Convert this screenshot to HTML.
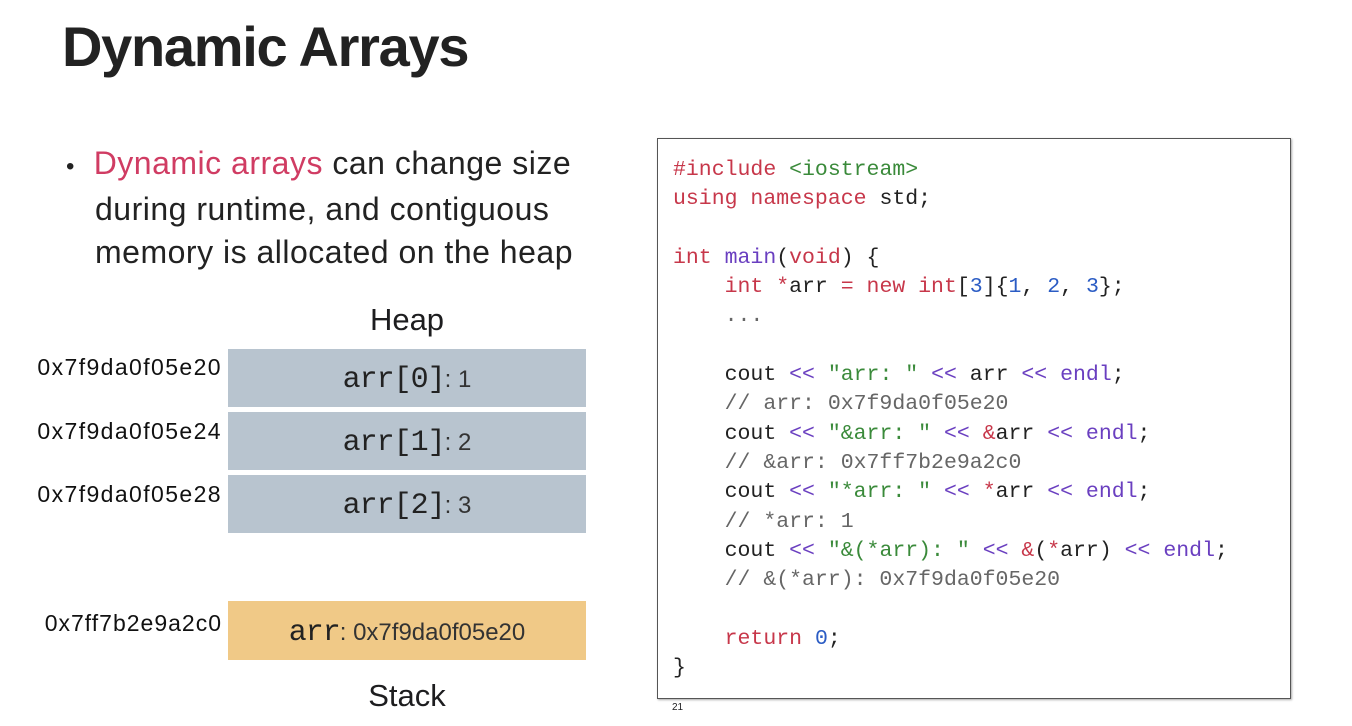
<!DOCTYPE html>
<html><head><meta charset="utf-8"><style>
body{margin:0;width:1352px;height:726px;background:#fff;position:relative;overflow:hidden;font-family:"Liberation Sans",sans-serif;color:#1d1d1f}
.a{position:absolute}
h1{position:absolute;left:62px;top:14px;margin:0;font-size:56px;font-weight:bold;letter-spacing:-1.3px;color:#222}
.bul{left:66px;top:142px;font-size:32px;line-height:43px;color:#222;letter-spacing:0.5px}
.addr{font-size:23px;color:#111;left:0;width:222px;text-align:right;letter-spacing:1.4px}
.box{left:228px;width:358px;background:#b8c4cf;text-align:center;font-size:24px;color:#333}
.box b{font-family:"Liberation Mono",monospace;font-weight:normal;font-size:30px;color:#222;letter-spacing:-1px}
pre{position:absolute;left:657px;top:138px;width:634px;height:561px;margin:0;border:1px solid #555;box-shadow:1px 1px 2px #aaa;box-sizing:border-box;padding:17px 0 0 15px;font-family:"Liberation Mono",monospace;font-size:21.5px;line-height:29.3px;color:#222}
.r{color:#c7374a}.g{color:#3a8a3a}.p{color:#6a3fc0}.bl{color:#2b5cc4}.c{color:#666}
</style></head><body>
<h1>Dynamic Arrays</h1>
<div class="a bul"><span style="font-size:24px">•</span>&nbsp;&nbsp;<span style="color:#d03c63">Dynamic arrays</span> can change size<br><span style="padding-left:29px">during runtime, and contiguous</span><br><span style="padding-left:29px">memory is allocated on the heap</span></div>
<div class="a" style="left:228px;width:358px;text-align:center;top:302px;font-size:31px">Heap</div>
<div class="a addr" style="top:354px">0x7f9da0f05e20</div>
<div class="a addr" style="top:418px">0x7f9da0f05e24</div>
<div class="a addr" style="top:481px">0x7f9da0f05e28</div>
<div class="a box" style="top:349px;height:58px;line-height:62px"><b>arr[0]</b>: 1</div>
<div class="a box" style="top:412px;height:58px;line-height:62px"><b>arr[1]</b>: 2</div>
<div class="a box" style="top:475px;height:58px;line-height:62px"><b>arr[2]</b>: 3</div>
<div class="a addr" style="top:610px;letter-spacing:1px">0x7ff7b2e9a2c0</div>
<div class="a box" style="top:601px;height:59px;line-height:64px;background:#f0c987"><b>arr</b>: 0x7f9da0f05e20</div>
<div class="a" style="left:228px;width:358px;text-align:center;top:678px;font-size:31px">Stack</div>
<pre><span class="r">#include</span> <span class="g">&lt;iostream&gt;</span>
<span class="r">using namespace</span> std;

<span class="r">int</span> <span class="p">main</span>(<span class="r">void</span>) {
    <span class="r">int *</span>arr <span class="r">=</span> <span class="r">new int</span>[<span class="bl">3</span>]{<span class="bl">1</span>, <span class="bl">2</span>, <span class="bl">3</span>};
    <span class="c">...</span>

    cout <span class="p">&lt;&lt;</span> <span class="g">"arr: "</span> <span class="p">&lt;&lt;</span> arr <span class="p">&lt;&lt;</span> <span class="p">endl</span>;
    <span class="c">// arr: 0x7f9da0f05e20</span>
    cout <span class="p">&lt;&lt;</span> <span class="g">"&amp;arr: "</span> <span class="p">&lt;&lt;</span> <span class="r">&amp;</span>arr <span class="p">&lt;&lt;</span> <span class="p">endl</span>;
    <span class="c">// &amp;arr: 0x7ff7b2e9a2c0</span>
    cout <span class="p">&lt;&lt;</span> <span class="g">"*arr: "</span> <span class="p">&lt;&lt;</span> <span class="r">*</span>arr <span class="p">&lt;&lt;</span> <span class="p">endl</span>;
    <span class="c">// *arr: 1</span>
    cout <span class="p">&lt;&lt;</span> <span class="g">"&amp;(*arr): "</span> <span class="p">&lt;&lt;</span> <span class="r">&amp;</span>(<span class="r">*</span>arr) <span class="p">&lt;&lt;</span> <span class="p">endl</span>;
    <span class="c">// &amp;(*arr): 0x7f9da0f05e20</span>

    <span class="r">return</span> <span class="bl">0</span>;
}</pre>
<div class="a" style="left:672px;top:702px;font-size:10px">21</div>
</body></html>
